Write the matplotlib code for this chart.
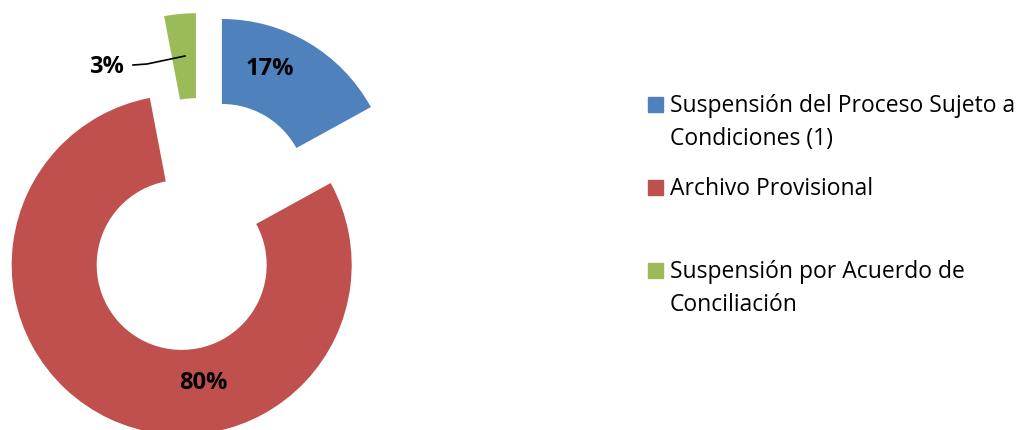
import matplotlib
matplotlib.use("Agg")
import matplotlib.pyplot as plt
from matplotlib.patches import Rectangle

categorias = ["Suspensión del Proceso Sujeto a\nCondiciones (1)",
              "Archivo Provisional",
              "Suspensión por Acuerdo de\nConciliación"]
valores = [17, 80, 3]
etiquetas = ["17%", "80%", "3%"]
colores = ["#4F81BD", "#C0504D", "#9BBB59"]

plt.rcParams['font.family'] = ['Open Sans', 'DejaVu Sans']

W, H = 1021, 430
fig = plt.figure(figsize=(W / 100, H / 100), dpi=100)
ax = fig.add_axes([0, 0, 1, 1])

# axes in pixel units (y up), so the donut sits where it does in the picture
centro = (200, 204)
ax.pie(valores, colors=colores, startangle=90, counterclock=False,
       center=centro, radius=170, explode=[43] * len(valores),
       wedgeprops=dict(width=85, linewidth=0), frame=True)
ax.set_xlim(0, W)
ax.set_ylim(0, H)
ax.set_aspect('auto')
ax.axis('off')

# data labels
pos = [(270, 361), (203, 47), (106, 363)]
for (x, y), t in zip(pos, etiquetas):
    ax.text(x, y, t, ha='center', va='center', fontsize=17, fontweight='bold')
# leader line for the small slice
ax.plot([133, 147, 185], [H - 65, H - 64, H - 56], color='black', lw=1.2)

# legend, one equal slot per entry
for i, (lab, c) in enumerate(zip(categorias, colores)):
    top = 94 + i * 83
    fig.patches.append(Rectangle((648 / W, 1 - 112 / H - i * 83 / H), 15 / W, 15 / H,
                                 transform=fig.transFigure, color=c))
    fig.text(670 / W, 1 - top / H, lab, ha='left', va='top', fontsize=16.5,
             linespacing=1.5)

fig.savefig("out.png", dpi=100)
